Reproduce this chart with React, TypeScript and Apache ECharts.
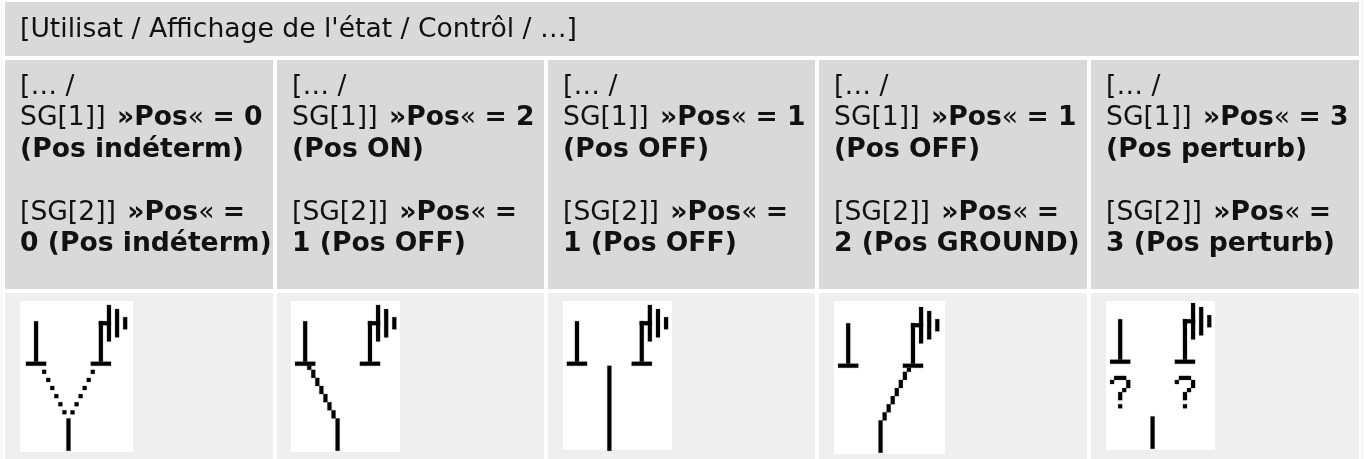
import React, { useEffect, useRef } from "react";
import * as echarts from "echarts";

const W = 1365;
const H = 459;
const FONT = "'DejaVu Sans'";
const FONT_SIZE = 26.6;
const LINE_HEIGHT = 31.5;
const HEADER_TITLE = "[Utilisat / Affichage de l'état / Contrôl / …]";

// text runs: plain text, and text wrapped in ** is bold
const COLUMN_LINES: string[][] = [
  ["[… /", "SG[1]] **»Pos**« **= 0**", "**(Pos indéterm)**", "", "[SG[2]] **»Pos**« **=**", "**0 (Pos indéterm)**"],
  ["[… /", "SG[1]] **»Pos**« **= 2**", "**(Pos ON)**", "", "[SG[2]] **»Pos**« **=**", "**1 (Pos OFF)**"],
  ["[… /", "SG[1]] **»Pos**« **= 1**", "**(Pos OFF)**", "", "[SG[2]] **»Pos**« **=**", "**1 (Pos OFF)**"],
  ["[… /", "SG[1]] **»Pos**« **= 1**", "**(Pos OFF)**", "", "[SG[2]] **»Pos**« **=**", "**2 (Pos GROUND)**"],
  ["[… /", "SG[1]] **»Pos**« **= 3**", "**(Pos perturb)**", "", "[SG[2]] **»Pos**« **=**", "**3 (Pos perturb)**"],
];

const CELL_X: [number, number][] = [
  [5, 273],
  [277, 544],
  [548, 815],
  [819, 1087],
  [1091, 1359],
];

// icon pixel runs: [column, row, columns, rows]
type Run = [number, number, number, number];
const CONTACTS: Run[] = [
  [3, 4, 1, 10], [1, 14, 5, 1],
  [17, 14, 5, 1], [19, 4, 1, 10], [19, 4, 3, 1],
  [21, 0, 1, 9], [23, 1, 1, 7], [25, 3, 1, 3],
];
const STEM: Run = [11, 28, 1, 8];
const ICON_UNDEFINED: Run[] = [
  [5, 16, 1, 1], [6, 18, 1, 1], [7, 20, 1, 1], [8, 22, 1, 1], [9, 24, 1, 1], [10, 26, 1, 1],
  [17, 16, 1, 1], [16, 18, 1, 1], [15, 20, 1, 1], [14, 22, 1, 1], [13, 24, 1, 1], [12, 26, 1, 1],
  STEM,
];
const ICON_ON: Run[] = [
  [4, 15, 1, 1], [5, 16, 1, 2], [6, 18, 1, 2], [7, 20, 1, 2], [8, 22, 1, 2], [9, 24, 1, 2], [10, 26, 1, 2],
  STEM,
];
const ICON_OFF: Run[] = [[11, 15, 1, 21]];
const ICON_GROUND: Run[] = [
  [18, 15, 1, 1], [17, 16, 1, 2], [16, 18, 1, 2], [15, 20, 1, 2], [14, 22, 1, 2], [13, 24, 1, 2], [12, 26, 1, 2],
  STEM,
];
const question = (c: number): Run[] => [
  [c, 19, 1, 1], [c + 1, 18, 3, 1], [c + 4, 19, 1, 2], [c + 3, 21, 1, 1], [c + 2, 22, 1, 2], [c + 2, 25, 1, 1],
];
const ICON_DISTURBED: Run[] = [...question(1), ...question(17), STEM];
const ICON_RUNS: Run[][] = [ICON_UNDEFINED, ICON_ON, ICON_OFF, ICON_GROUND, ICON_DISTURBED];

// white box [x, y, w, h] and pixel grid origin [x, y]
const ICON_BOX: [number, number, number, number][] = [
  [20, 301, 113, 151],
  [291, 301, 109, 151],
  [563, 301, 109, 149],
  [834, 301, 111, 153],
  [1106, 301, 109, 149],
];
const ICON_ORIGIN: [number, number][] = [
  [21.9, 305],
  [291, 305],
  [562.8, 305],
  [834, 307],
  [1106, 303],
];
const UNIT = 4.05;

function buildLine(line: string, x: number, y: number) {
  const parts = line.split("**");
  const text = parts
    .map((p, i) => {
      if (p === "") return "";
      if (i % 2 === 0) return `{n|${p}}`;
      return p.startsWith("»") ? `{m|${p}}` : `{b|${p}}`;
    })
    .join("");
  const bold = { fontFamily: FONT, fontSize: FONT_SIZE, fontWeight: "bold", fill: "#111", color: "#111" };
  return {
    type: "text",
    x,
    y,
    style: {
      text,
      fill: "#000",
      textVerticalAlign: "middle",
      rich: {
        n: { fontFamily: FONT, fontSize: FONT_SIZE, fontWeight: "normal", fill: "#111", color: "#111" },
        b: bold,
        m: { ...bold, padding: [0, 0, 0, 3] },
      },
    },
  };
}

function rect(x: number, y: number, w: number, h: number, fill: string) {
  return { type: "rect", shape: { x, y, width: w, height: h }, style: { fill } };
}

export default function App() {
  const ref = useRef<HTMLDivElement>(null);
  useEffect(() => {
    const chart = echarts.init(ref.current!, undefined, { renderer: "svg" });
    const els: any[] = [];
    els.push(rect(0, 0, W, H, "#ffffff"));
    els.push(rect(1, 0, 1, H, "#f1f1f1"));
    els.push(rect(1362, 0, 1, H, "#f1f1f1"));
    els.push(rect(5, 2, 1354, 54, "#d9d9d9"));
    els.push(buildLine(HEADER_TITLE, 20, 27));
    CELL_X.forEach(([a, b], i) => {
      els.push(rect(a, 60, b - a, 229, "#d9d9d9"));
      els.push(rect(a, 293, b - a, H - 293, "#efefef"));
      COLUMN_LINES[i].forEach((l, j) => {
        if (l) els.push(buildLine(l, a + 15, 84 + j * LINE_HEIGHT));
      });
      const [bx, by, bw, bh] = ICON_BOX[i];
      els.push(rect(bx, by, bw, bh, "#ffffff"));
      const [ox, oy] = ICON_ORIGIN[i];
      [...CONTACTS, ...ICON_RUNS[i]].forEach(([c, r, cs, rs]) => {
        els.push({
          type: "rect",
          shape: { x: ox + c * UNIT, y: oy + r * UNIT, width: cs * UNIT, height: rs * UNIT },
          style: { fill: "#000", stroke: "rgba(0,0,0,0.25)", lineWidth: 0.8 },
        });
      });
    });
    chart.setOption({ animation: false, graphic: { elements: els } });
    return () => chart.dispose();
  }, []);
  return <div ref={ref} style={{ position: "fixed", left: 0, top: 0, width: W, height: H }} />;
}
